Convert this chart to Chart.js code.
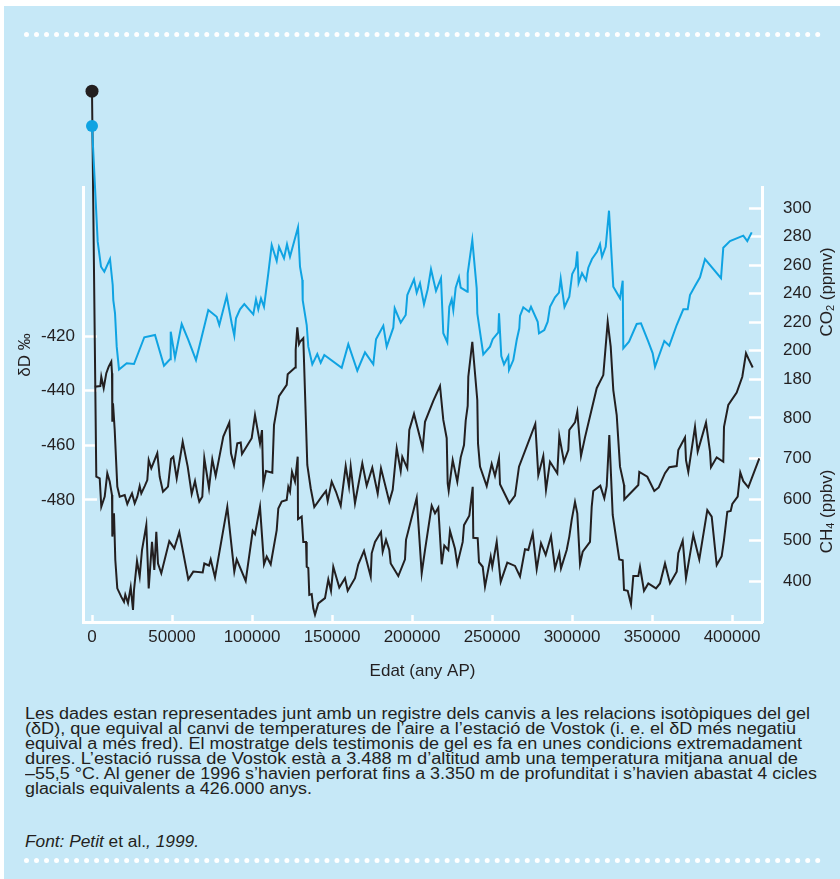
<!DOCTYPE html>
<html lang="ca">
<head>
<meta charset="utf-8">
<title>Vostok: δD, CO2 i CH4</title>
<script src="https://cdn.jsdelivr.net/npm/chart.js@4.4.1/dist/chart.umd.min.js"></script>
<style>
  html, body { margin: 0; padding: 0; background: #fff; }
  body { position: relative; width: 840px; height: 879px; overflow: hidden;
         font-family: "Liberation Sans", Arial, sans-serif; color: #231f20; }
  .panel { position: absolute; left: 4px; top: 6px; right: 0; bottom: 0; background: #c6e8f7; }
  .dots { position: absolute; left: 24px; width: 797px; height: 0; border-top: 5px dotted #fff; }
  #chart { position: absolute; left: 0; top: 0; }
  .note { position: absolute; left: 25px; top: 706px; font-size: 16px; line-height: 15px; }
  .note div, .source div { white-space: nowrap; width: max-content; transform-origin: 0 50%; }
  .source { position: absolute; left: 25px; top: 834px; font-size: 16px; line-height: 15px; }
  .source i { font-style: italic; }
</style>
</head>
<body>
<div class="panel"></div>
<div class="dots" style="top:32px"></div>
<canvas id="chart" width="840" height="700"></canvas>
<div class="note">
  <div data-w="785">Les dades estan representades junt amb un registre dels canvis a les relacions isotòpiques del gel</div>
  <div data-w="771">(δD), que equival al canvi de temperatures de l’aire a l’estació de Vostok (i. e. el δD més negatiu</div>
  <div data-w="777">equival a més fred). El mostratge dels testimonis de gel es fa en unes condicions extremadament</div>
  <div data-w="773">dures. L’estació russa de Vostok està a 3.488 m d’altitud amb una temperatura mitjana anual de</div>
  <div data-w="792">–55,5 °C. Al gener de 1996 s’havien perforat fins a 3.350 m de profunditat i s’havien abastat 4 cicles</div>
  <div data-w="287">glacials equivalents a 426.000 anys.</div>
</div>
<div class="source"><div data-w="174"><i>Font: Petit</i> et al.<i>, 1999.</i></div></div>
<div class="dots" style="top:858px"></div>

<script>
// tick labels
const xTicks = [0, 50000, 100000, 150000, 200000, 250000, 300000, 350000, 400000];
const ddTicks = [-420, -440, -460, -480];
const co2Ticks = [180, 200, 220, 240, 260, 280, 300];
const ch4Ticks = [400, 500, 600, 700, 800];

// CO2 (ppmv), first point = present-day dot
const co2Years = [0, 3560, 5625, 7690, 11250, 12940, 13310, 14375, 15440, 16875, 21690, 26250, 32690, 39375, 45000, 48750, 49200, 51875, 56060, 60190, 65000, 72690, 77940, 79560, 84190, 87310, 88940, 90000, 92500, 95190, 100810, 102500, 103940, 105625, 107500, 110190, 112310, 115440, 116875, 120000, 121875, 123750, 128750, 130000, 131440, 131690, 134190, 135190, 137690, 140810, 142940, 145190, 156060, 160190, 165810, 170625, 175810, 177500, 182060, 184190, 188310, 189190, 192940, 196060, 197060, 201250, 202940, 205000, 207500, 209810, 211875, 215000, 218125, 219560, 222060, 223310, 224810, 225810, 227310, 229375, 230440, 234560, 234810, 237690, 240440, 240810, 244560, 248750, 250440, 253940, 254375, 255810, 257500, 260190, 260625, 263310, 265440, 267060, 267500, 269560, 273125, 274375, 278560, 279375, 282690, 284810, 286250, 289375, 291875, 292940, 295310, 298310, 300125, 302310, 303310, 304125, 306250, 308750, 310190, 312500, 315625, 317500, 318750, 321060, 323125, 325810, 330000, 331690, 332060, 335625, 340440, 343125, 347690, 350440, 351875, 357690, 360810, 365440, 369560, 372310, 373750, 376875, 380000, 383125, 393125, 394560, 398750, 407060, 409560, 412310];
const co2Values = [357.5, 276.4, 258.8, 255.3, 264.2, 246, 235.4, 226.3, 202.7, 186.7, 191, 190.5, 209.3, 210.9, 189.3, 193.8, 213.2, 195, 218.6, 207.4, 193.3, 228.4, 223.7, 217.9, 238.2, 219.1, 210.4, 222.6, 228.9, 232.6, 225.4, 235.9, 228.9, 236.6, 230.7, 254.2, 274, 262.8, 272.8, 264.7, 274.5, 265.8, 286.5, 258.8, 249.5, 235.4, 217.9, 202.7, 190.3, 197.5, 191.4, 196.8, 187.9, 204.4, 185.8, 198.7, 190.3, 207.9, 217.4, 202.7, 216, 229.6, 219.5, 224.9, 238.9, 250, 240.6, 247.2, 232.4, 242.9, 257, 241.8, 250.7, 212.1, 205.8, 230.7, 235.9, 228.4, 244.1, 251.4, 244.1, 241.3, 254.2, 277.5, 243.6, 226.1, 197.3, 202.7, 207.9, 212.8, 226.1, 196.1, 190.3, 196.1, 186.3, 193.3, 207.4, 215.6, 224.2, 230.3, 227.2, 230.7, 220.2, 212.1, 214.4, 220.2, 230.7, 237.3, 240.6, 250.4, 230.5, 237.8, 253.7, 258.4, 269.5, 247.4, 254.2, 249.3, 258.1, 264.2, 269.3, 274.6, 265.8, 272.8, 298.1, 244.8, 236.6, 249, 201.5, 206.2, 218.6, 219.1, 206.2, 198, 188.6, 206.7, 203.4, 217.9, 228.9, 228.9, 238.9, 245.3, 251.4, 264.2, 250.7, 272.1, 276.8, 280.6, 276.8, 282.9];

// deuterium (per mil)
const ddYears = [1690, 5190, 5810, 7310, 8940, 10440, 12060, 12500, 12700, 13125, 14190, 15810, 17310, 20440, 22060, 23560, 25000, 26690, 28310, 29810, 30810, 32940, 34560, 35440, 37060, 40810, 42310, 44375, 47500, 49375, 50810, 52940, 56690, 59810, 62310, 64375, 66060, 67060, 68940, 70190, 73125, 75190, 77310, 82060, 85810, 86875, 88750, 90810, 92940, 93750, 99810, 101875, 105000, 106250, 107060, 108750, 112690, 113750, 116875, 121690, 122310, 127000, 127300, 128310, 129375, 130000, 132060, 134560, 136690, 138940, 143560, 146250, 147310, 149810, 152500, 155440, 158560, 160625, 161690, 164375, 168940, 171690, 175190, 178560, 180625, 185810, 187940, 190440, 192940, 193940, 197060, 198310, 201250, 206690, 208125, 213310, 217500, 219560, 221690, 222310, 222940, 225440, 228310, 230440, 232500, 233560, 234810, 235190, 237690, 240810, 241250, 242500, 246690, 249810, 251875, 254375, 255000, 260810, 264375, 266875, 277060, 278940, 282060, 283750, 286250, 290810, 292060, 295000, 297690, 298310, 301875, 303310, 305625, 308125, 315440, 319560, 322310, 324190, 325810, 327940, 330000, 332500, 332690, 341440, 342060, 347060, 351440, 354190, 358125, 360810, 365440, 366440, 370625, 371250, 372690, 376875, 378560, 383750, 386250, 386875, 390440, 394560, 395000, 397690, 402940, 406440, 408750, 410190, 412940];
const ddValues = [-438.6, -438.3, -434.9, -439.1, -433.6, -431.2, -429.4, -433.6, -451.4, -444.6, -454.4, -475.1, -478.8, -478.2, -481.5, -479.4, -477.6, -481.2, -478.8, -474.9, -477.6, -474.9, -472.7, -465.4, -468.4, -462.9, -471.5, -477, -475.1, -465, -464.2, -472.1, -458.7, -467.8, -477.8, -473.1, -478.2, -480.6, -478.8, -464.7, -475.7, -465.1, -471.2, -456.8, -451.7, -462.9, -467.2, -459.3, -459, -463.2, -457.4, -448.9, -459.3, -454.4, -474.3, -469.4, -470, -452.6, -442, -437.9, -434, -431.5, -425.1, -416.8, -422.9, -422.1, -420.8, -467.2, -475.7, -482.6, -478.8, -476.7, -480.4, -473.3, -477, -482.1, -467.6, -475.1, -467.8, -481.2, -466.6, -474.8, -468.2, -477.6, -468.4, -480.6, -476.3, -461.1, -469.4, -464.2, -468.4, -454.4, -448.5, -461.1, -451.4, -443.7, -438.3, -450.7, -457.4, -473.9, -476.6, -465.4, -473.3, -464.4, -459.9, -451, -445.6, -434.9, -422.1, -443.4, -459.3, -467.8, -474.9, -466.8, -471.2, -464.7, -474.2, -481.2, -478.4, -467.8, -452.2, -470.9, -463.9, -476.3, -466, -470.2, -456.6, -466, -461.7, -454.4, -451.6, -447.7, -463.9, -457.1, -439.1, -434.3, -414.8, -423.9, -439.8, -448.9, -467.8, -474.5, -479.8, -474.5, -469.7, -471.5, -476.7, -475.4, -470.2, -468, -467.6, -461.7, -457.1, -465.4, -469.7, -453.2, -462.3, -451.7, -462.3, -468, -464.4, -466, -453.2, -445.2, -440.7, -434.9, -426.3, -428.2, -431.5];

// CH4 (ppbv), first point = present-day dot
const ch4Years = [0, 2690, 4810, 5810, 7940, 9560, 11060, 12500, 12700, 13750, 14560, 15810, 18310, 20000, 20810, 22500, 24190, 25625, 26250, 28125, 29810, 31250, 33940, 35440, 37500, 38940, 40190, 41250, 43310, 48310, 51440, 54560, 60190, 63310, 69190, 70190, 73125, 74190, 76875, 84560, 88940, 90440, 96060, 100440, 101875, 105000, 107500, 109190, 111690, 115440, 116440, 118560, 121690, 122690, 123750, 125000, 126875, 128560, 128750, 131060, 132060, 133750, 134190, 135190, 135810, 137310, 138310, 139375, 141440, 145625, 147690, 149375, 150810, 154560, 158125, 159810, 164375, 166440, 170000, 174190, 174810, 176875, 180625, 181690, 183750, 185810, 186690, 191440, 195625, 196250, 202940, 206060, 208125, 212310, 214375, 216440, 218560, 220190, 222690, 223750, 226875, 228310, 231690, 232500, 235810, 237940, 238310, 241060, 241875, 244190, 245625, 249190, 250190, 252940, 255440, 259560, 264375, 267500, 270625, 272690, 275440, 277940, 280625, 283560, 286875, 289375, 292060, 293125, 296690, 298310, 299810, 301875, 303310, 305000, 306690, 311250, 312310, 313310, 317690, 320190, 321690, 323310, 325440, 329560, 331690, 332500, 334810, 336875, 338310, 341440, 342500, 345000, 347690, 352500, 355000, 358125, 361250, 365440, 366440, 369190, 371250, 375810, 379560, 384560, 387310, 390440, 393560, 395000, 397060, 399190, 400190, 403560, 405190, 407060, 410190, 417060];
const ch4Values = [1602, 656, 652, 582, 607, 664, 644, 611, 509, 566, 452, 382, 361, 349, 366, 346, 385, 329, 378, 449, 411, 476, 537, 382, 496, 427, 521, 443, 419, 498, 480, 520, 404, 423, 421, 443, 438, 453, 409, 582, 423, 453, 400, 523, 515, 582, 441, 460, 441, 525, 578, 595, 599, 631, 619, 668, 644, 705, 552, 558, 496, 496, 435, 432, 366, 368, 333, 317, 345, 358, 404, 376, 435, 384, 407, 376, 407, 441, 474, 411, 468, 496, 520, 472, 501, 476, 443, 412, 453, 501, 604, 419, 476, 585, 566, 580, 441, 487, 476, 523, 479, 441, 496, 537, 560, 631, 506, 505, 446, 435, 386, 460, 435, 496, 398, 445, 437, 411, 478, 476, 517, 429, 493, 464, 510, 431, 468, 431, 476, 509, 550, 594, 566, 442, 472, 496, 582, 621, 634, 603, 633, 758, 562, 453, 451, 378, 376, 343, 412, 412, 435, 376, 394, 382, 394, 443, 394, 423, 468, 499, 407, 513, 453, 574, 558, 439, 461, 501, 570, 572, 589, 607, 666, 645, 630, 701];

const ink = "#231f20";
const blue = "#0fa3e2";
const family = "'Liberation Sans', Arial, sans-serif";
const tickFont = { family, size: 17 };

const toPoints = (xs, ys) => xs.map((x, i) => ({ x, y: ys[i] }));

function drawRotated(ctx, parts, x, y) {
  ctx.save();
  ctx.translate(x, y);
  ctx.rotate(-Math.PI / 2);
  ctx.textBaseline = "middle";
  ctx.textAlign = "left";
  let total = 0;
  parts.forEach(([t, size]) => {
    ctx.font = `${size}px ${family}`;
    total += ctx.measureText(t).width;
  });
  let cx = -total / 2;
  parts.forEach(([t, size, dy = 0]) => {
    ctx.font = `${size}px ${family}`;
    ctx.fillText(t, cx, dy);
    cx += ctx.measureText(t).width;
  });
  ctx.restore();
}

// axis titles that read bottom-to-top on both sides
const sideTitles = {
  id: "sideTitles",
  afterDraw(chart) {
    const { ctx, chartArea, scales } = chart;
    ctx.save();
    ctx.fillStyle = ink;
    drawRotated(ctx, [["δD ‰", 17]], chartArea.left - 58, chartArea.top + 168);
    drawRotated(ctx, [["CO", 17], ["2", 11, 4], [" (ppmv)", 17]],
      chartArea.right + 65, (scales.co2.top + scales.co2.bottom) / 2);
    drawRotated(ctx, [["CH", 17], ["4", 11, 4], [" (ppbv)", 17]],
      chartArea.right + 65, (scales.ch4.top + scales.ch4.bottom) / 2 + 2);
    ctx.restore();
  },
};

// present-day dots sit above the plot area, where Chart.js skips points,
// so draw them at the first element of each flagged dataset
const presentDots = {
  id: "presentDots",
  afterDatasetsDraw(chart) {
    const { ctx } = chart;
    [2, 0].forEach((i) => {
      const ds = chart.data.datasets[i];
      const pt = chart.getDatasetMeta(i).data[0];
      if (!pt) return;
      ctx.save();
      ctx.fillStyle = ds.borderColor;
      ctx.beginPath();
      ctx.arc(pt.x, pt.y, ds.dotRadius, 0, Math.PI * 2);
      ctx.fill();
      ctx.restore();
    });
  },
};

const axisGrid = (len) => ({ drawOnChartArea: false, color: "#fff", tickLength: len, tickWidth: 2.5 });
const axisBorder = { color: "#fff", width: 3 };
const fixTicks = (list) => (s) => { s.ticks = list.map((v) => ({ value: v })); };
const tickOpts = (padding) => ({
  color: ink, font: tickFont, padding, autoSkip: false, maxRotation: 0, callback: (v) => String(v),
});

new Chart(document.getElementById("chart"), {
  type: "line",
  data: {
    datasets: [
      {
        label: "CO2",
        data: toPoints(co2Years, co2Values),
        yAxisID: "co2",
        borderColor: blue,
        borderWidth: 2,
        pointRadius: 0,
        dotRadius: 6,
        clip: false,
      },
      {
        label: "δD",
        data: toPoints(ddYears, ddValues),
        yAxisID: "dd",
        borderColor: ink,
        borderWidth: 2,
        pointRadius: 0,
        clip: false,
      },
      {
        label: "CH4",
        data: toPoints(ch4Years, ch4Values),
        yAxisID: "ch4",
        borderColor: ink,
        borderWidth: 2,
        pointRadius: 0,
        dotRadius: 6.5,
        clip: false,
      },
    ],
  },
  options: {
    responsive: false,
    animation: false,
    events: [],
    layout: { padding: { top: 187, left: 0, right: 0, bottom: 0 } },
    plugins: { legend: { display: false }, tooltip: { enabled: false } },
    scales: {
      x: {
        type: "linear",
        position: "bottom",
        min: -5625,
        max: 418750,
        afterBuildTicks: fixTicks(xTicks),
        afterFit: (s) => { s.height = 78; },
        grid: axisGrid(-7),
        border: axisBorder,
        ticks: tickOpts(12),
        title: { display: true, text: "Edat (any AP)", color: ink, font: { family, size: 17 }, padding: { top: 0, bottom: 18 } },
      },
      dd: {
        type: "linear",
        position: "left",
        min: -524.64,
        max: -365.48,
        afterBuildTicks: fixTicks(ddTicks),
        afterFit: (s) => { s.width = 83; },
        grid: axisGrid(-14),
        border: axisBorder,
        ticks: tickOpts(22),
      },
      co2: {
        type: "linear",
        position: "right",
        stack: "right",
        stackWeight: 210,
        min: 167.37,
        max: 314.74,
        afterBuildTicks: fixTicks(co2Ticks),
        afterFit: (s) => { s.width = 78; },
        grid: axisGrid(-13),
        border: axisBorder,
        ticks: tickOpts(34),
      },
      ch4: {
        type: "linear",
        position: "right",
        stack: "right",
        stackWeight: 225,
        min: 299.4,
        max: 851.5,
        afterBuildTicks: fixTicks(ch4Ticks),
        afterFit: (s) => { s.width = 78; },
        grid: axisGrid(-13),
        border: axisBorder,
        ticks: tickOpts(34),
      },
    },
  },
  plugins: [sideTitles, presentDots],
});

// squeeze the caption lines to the widths of the printed original
document.querySelectorAll("[data-w]").forEach((el) => {
  const w = el.getBoundingClientRect().width;
  el.style.transform = `scaleX(${(+el.dataset.w / w).toFixed(4)})`;
});
</script>
</body>
</html>
